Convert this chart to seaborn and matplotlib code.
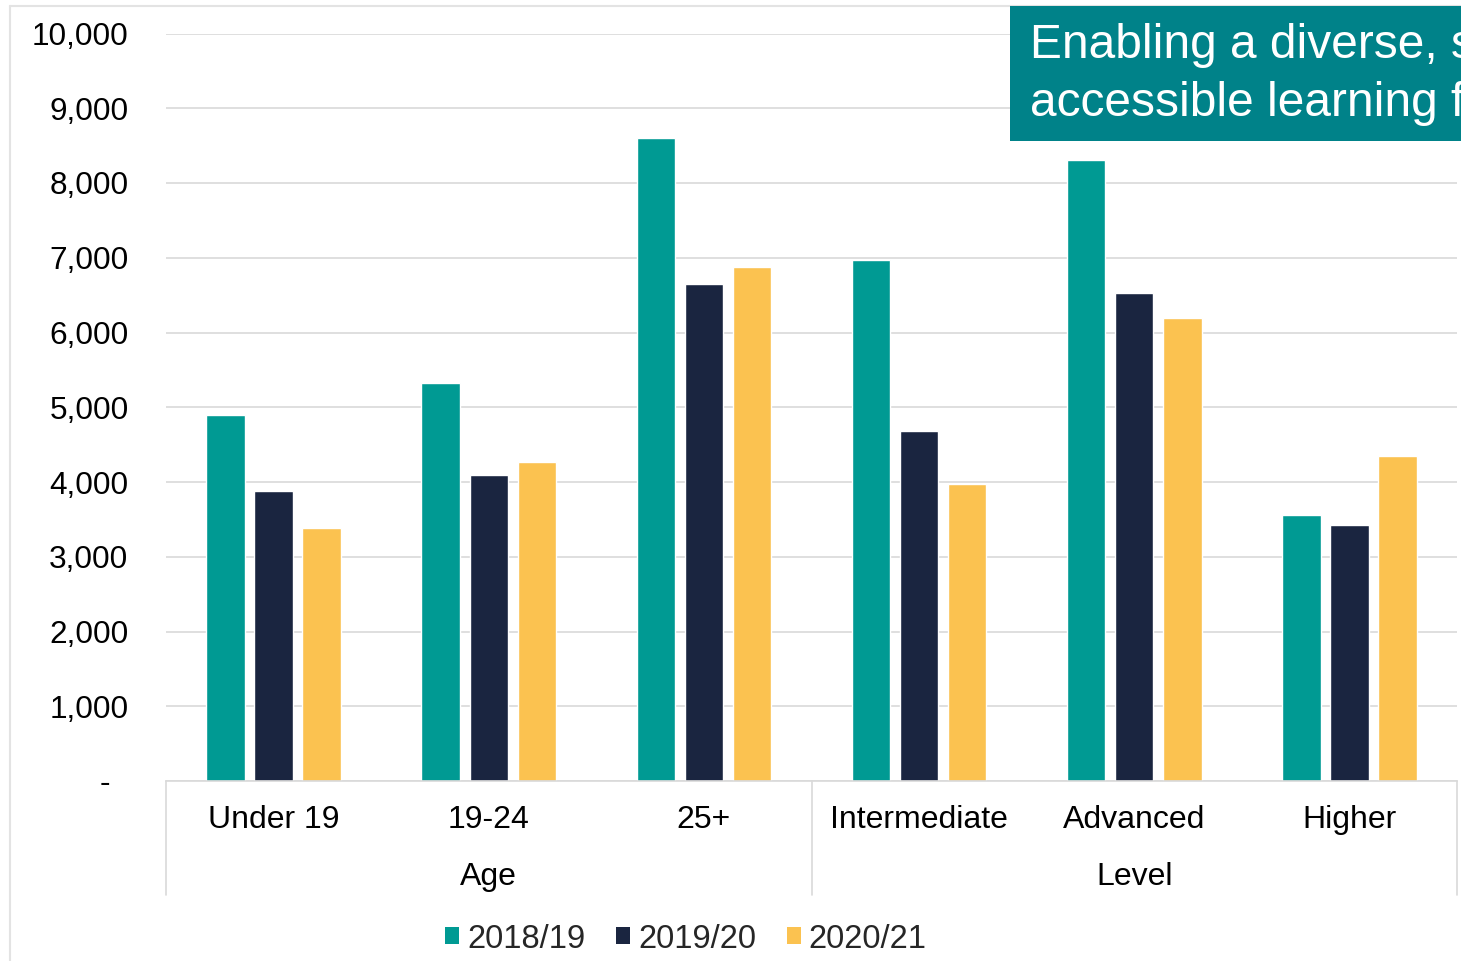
import matplotlib
matplotlib.use("Agg")
import matplotlib.pyplot as plt
from matplotlib.patches import Rectangle, Patch
import matplotlib.transforms as mtransforms
import seaborn as sns
import pandas as pd

# Learners by age band and qualification level, three academic years
categories = ["Under 19", "19-24", "25+", "Intermediate", "Advanced", "Higher"]
groups = ["Age", "Level"]
group_sizes = [3, 3]
years = ["2018/19", "2019/20", "2020/21"]
values_2018_19 = [4900, 5320, 8600, 6970, 8310, 3560]
values_2019_20 = [3880, 4090, 6650, 4680, 6530, 3420]
values_2020_21 = [3380, 4270, 6880, 3970, 6200, 4350]
y_ticks = [0, 1000, 2000, 3000, 4000, 5000, 6000, 7000, 8000, 9000, 10000]
y_tick_labels = ["-  ", "1,000", "2,000", "3,000", "4,000", "5,000",
                 "6,000", "7,000", "8,000", "9,000", "10,000"]
banner_lines = ["Enabling a diverse, sustainable and",
                "accessible learning for all"]

colors = ["#009A93", "#1A2540", "#FBC250"]
banner_color = "#008289"
grid_color = "#D9D9D9"

rows = []
for year, vals in zip(years, [values_2018_19, values_2019_20, values_2020_21]):
    for cat, v in zip(categories, vals):
        rows.append({"category": cat, "year": year, "value": v})
df = pd.DataFrame(rows)

sns.set_style("white")
plt.rcParams["font.family"] = ["Liberation Sans", "DejaVu Sans"]

W, H = 1461, 961
fig = plt.figure(figsize=(W / 100, H / 100), dpi=100)
ax = fig.add_axes([166 / W, 180 / H, 1291 / W, 747.5 / H])

sns.barplot(data=df, x="category", y="value", hue="year", order=categories,
            hue_order=years, palette=colors, saturation=1, width=0.67, gap=0.2,
            legend=False, ax=ax, errorbar=None)

ax.set_xlim(-0.5, len(categories) - 0.5)
ax.set_ylim(0, 10000)
ax.set_yticks(y_ticks, y_tick_labels)
ax.yaxis.grid(True, color=grid_color, linewidth=1.2)
ax.set_axisbelow(True)
ax.set_xlabel("")
ax.set_ylabel("")
for side in ["left", "right", "top"]:
    ax.spines[side].set_visible(False)
ax.spines["bottom"].set_color(grid_color)
ax.spines["bottom"].set_linewidth(1.2)
ax.tick_params(axis="y", length=0, pad=27, labelsize=22.7, labelcolor="#000000")
ax.tick_params(axis="x", length=0, pad=17, labelsize=23, labelcolor="#000000")

# Group separators and group labels beneath the category labels
trans = mtransforms.blended_transform_factory(ax.transData, ax.transAxes)
edges = [-0.5]
for n in group_sizes:
    edges.append(edges[-1] + n)
for x in edges:
    ax.plot([x, x], [0, -0.153], transform=trans, color=grid_color,
            linewidth=1.2, clip_on=False)
for g, left, right in zip(groups, edges[:-1], edges[1:]):
    ax.text((left + right) / 2, -0.129, g, transform=trans, ha="center",
            va="center", fontsize=23, color="#000000")

# Legend
handles = [Patch(facecolor=c, edgecolor="none", label=y) for c, y in zip(colors, years)]
fig.legend(handles=handles, loc="center", bbox_to_anchor=(686 / W, 1 - 939 / H),
           ncol=3, frameon=False, fontsize=23.5, handlelength=0.42,
           handleheight=0.42, handletextpad=0.25, columnspacing=0.95)

# Outer chart-area border
fig.add_artist(plt.Line2D([10 / W, 10 / W], [0, 1 - 6 / H], color="#E3E3E3",
                          linewidth=1.5, transform=fig.transFigure))
fig.add_artist(plt.Line2D([10 / W, 1], [1 - 6 / H, 1 - 6 / H], color="#E3E3E3",
                          linewidth=1.5, transform=fig.transFigure))

# Title banner in the top-right corner
banner = Rectangle((1010 / W, 1 - 141 / H), (W - 1010) / W, 135 / H,
                   transform=fig.transFigure, facecolor=banner_color,
                   edgecolor="none", zorder=5)
fig.add_artist(banner)
for i, line in enumerate(banner_lines):
    t = fig.text(1030 / W, 1 - (46 + 57 * i) / H, line, color="white",
                 fontsize=34.5, va="center", ha="left", zorder=6)
    t.set_clip_path(banner)

fig.savefig("out.png", dpi=100)
